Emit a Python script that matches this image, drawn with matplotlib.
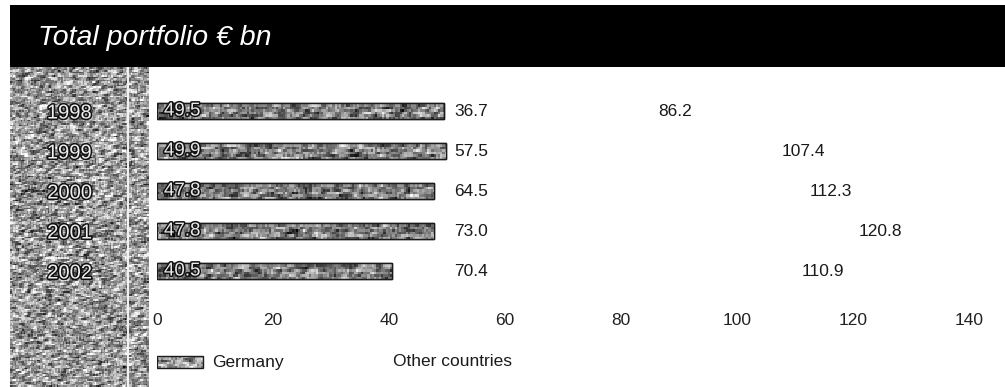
import numpy as np
import matplotlib
matplotlib.use("Agg")
import matplotlib.pyplot as plt
from matplotlib.patches import Rectangle
import matplotlib.patheffects as pe

plt.rcParams["font.family"] = ["Liberation Sans", "DejaVu Sans"]

# Portfolio in EUR bn
years = ["1998", "1999", "2000", "2001", "2002"]
germany = [49.5, 49.9, 47.8, 47.8, 40.5]
other_countries = [36.7, 57.5, 64.5, 73.0, 70.4]
totals = [86.2, 107.4, 112.3, 120.8, 110.9]
xticks = [0, 20, 40, 60, 80, 100, 120, 140]

W, H = 1005, 387
fig = plt.figure(figsize=(W / 100, H / 100), dpi=100)
fig.patch.set_facecolor("white")


def box(x0, y0, x1, y1):
    """Figure rectangle from pixel edges measured from the top-left corner."""
    return [x0 / W, 1 - y1 / H, (x1 - x0) / W, (y1 - y0) / H]


rng = np.random.default_rng(11)


def grain(shape, mean, spread):
    """Halftone-like grey texture with short horizontal streaks."""
    a = rng.random(shape)
    a = (a + np.roll(a, 1, axis=1) + np.roll(a, 2, axis=1) + 0.6 * np.roll(a, 1, axis=0)) / 3.6
    return np.clip(mean + (a - 0.5) * spread, 0, 1)


# Title band
fig.patches.append(Rectangle((10 / W, 1 - 67 / H), (W - 10) / W, 62 / H,
                             transform=fig.transFigure, facecolor="black",
                             edgecolor="none", zorder=0))
fig.text(38 / W, 1 - 38 / H, "Total portfolio € bn", color="white",
         fontsize=20.5, fontstyle="italic", va="center", ha="left")

# Textured side panel behind the year labels
side = fig.add_axes(box(10, 67, 148, 387), zorder=0)
side.imshow(grain((200, 92), 0.6, 1.25), cmap="gray", vmin=0, vmax=1,
            extent=[0, 138, 320, 0], interpolation="nearest", aspect="auto")
side.axvline(118, color="#f4f4f4", lw=1.4)
side.set_xlim(0, 138)
side.set_ylim(320, 0)
side.axis("off")

# Main bar axes
ax = fig.add_axes(box(157, 67, 1005, 300), zorder=1)
ax.patch.set_alpha(0)
y = np.arange(len(years))
bar_h = 0.42

bars = ax.barh(y, germany, height=bar_h, color="#7a7a7a", edgecolor="#1a1a1a",
               lw=1.0, zorder=2)
ax.barh(y, other_countries, left=germany, height=bar_h, color="white",
        edgecolor="none", zorder=1)

for b in bars:
    x0, y0 = b.get_x(), b.get_y()
    w, h = b.get_width(), b.get_height()
    img = ax.imshow(grain((7, int(w * 2.6)), 0.5, 1.1), cmap="gray", vmin=0, vmax=1,
                    extent=[x0, x0 + w, y0 + h, y0], interpolation="nearest",
                    aspect="auto", zorder=2.5)
    img.set_clip_path(b)
    ax.add_patch(Rectangle((x0, y0), w, h, facecolor="none",
                           edgecolor="#1a1a1a", lw=1.0, zorder=3))

outline = [pe.withStroke(linewidth=2.2, foreground="#111111")]
label_x = max(germany) + 1.3
for i in range(len(years)):
    ax.annotate(f"{germany[i]:.1f}", (0, y[i]), xytext=(5, 0),
                textcoords="offset points", ha="left", va="center",
                fontsize=13.5, color="#e8e8e8", path_effects=outline, zorder=4)
    ax.text(label_x, y[i], f"{other_countries[i]:.1f}", ha="left",
            va="center", fontsize=12.5, color="#1a1a1a")
    ax.annotate(f"{totals[i]:.1f}", (totals[i], y[i]), xytext=(1, 0),
                textcoords="offset points", ha="left", va="center",
                fontsize=12.5, color="#1a1a1a")

ax.set_xlim(0, (1005 - 157) / 5.8)
ax.set_ylim(4.725, -1.1)
ax.set_xticks(xticks)
ax.set_xticklabels([str(t) for t in xticks], fontsize=12.5, color="#222222")
ax.set_yticks(y)
ax.set_yticklabels(years, fontsize=14.5, color="#eeeeee")
for t in ax.get_yticklabels():
    t.set_path_effects(outline)
ax.tick_params(axis="x", length=0, pad=9.5)
ax.tick_params(axis="y", length=0, pad=47)
for s in ax.spines.values():
    s.set_visible(False)

# Legend
leg = fig.add_axes(box(157, 350, 600, 376), zorder=1)
leg.imshow(grain((6, 23), 0.62, 1.1), cmap="gray", vmin=0, vmax=1,
           extent=[157, 203, 368, 356], interpolation="nearest", aspect="auto")
leg.add_patch(Rectangle((157, 356), 46, 12, facecolor="none",
                        edgecolor="#1a1a1a", lw=1.0))
leg.text(212, 362, "Germany", fontsize=12.5, va="center", ha="left",
         color="#1a1a1a")
leg.add_patch(Rectangle((345, 356), 40, 12, facecolor="white", edgecolor="none"))
leg.text(393, 362, "Other countries", fontsize=12.5, va="center", ha="left",
         color="#1a1a1a")
leg.set_xlim(157, 600)
leg.set_ylim(376, 350)
leg.axis("off")

fig.savefig("out.png", dpi=100, facecolor="white")
